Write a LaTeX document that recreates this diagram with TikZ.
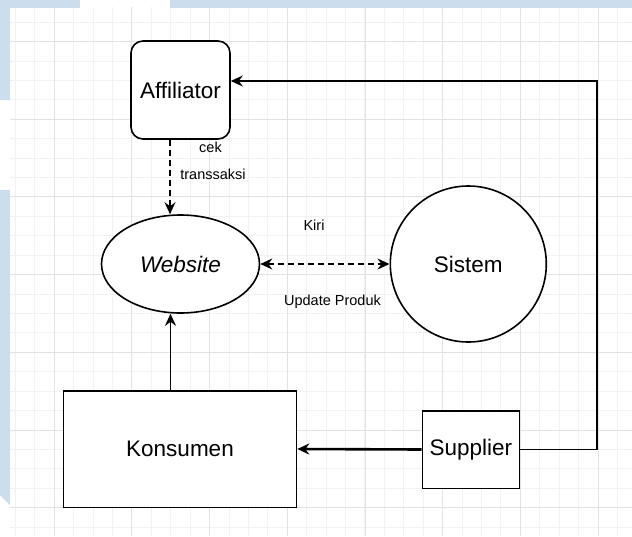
\documentclass[tikz,border=0pt]{standalone}
\usepackage{fontspec}
\setmainfont{Liberation Sans}
\usetikzlibrary{arrows.meta,positioning,shapes.geometric}
\definecolor{gridminor}{HTML}{F2F2F2}
\definecolor{gridmajor}{HTML}{E2E2E2}
\definecolor{pageblue}{HTML}{CCDDEE}

\begin{document}
\begin{tikzpicture}[x=1pt,y=-1pt,
  >={Stealth[length=12pt,width=11pt,inset=4pt]},
  entity/.style={draw=black,fill=white,line width=1.6pt,align=center,inner sep=0pt,font=\fontsize{22.5}{27}\selectfont},
  flow/.style={->,line width=1.6pt,draw=black},
  dashflow/.style={flow,dash pattern=on 6pt off 4pt},
  note/.style={inner sep=0pt,font=\fontsize{14.5}{17}\selectfont},
  minorgrid/.style={draw=gridminor,line width=1pt},
  majorgrid/.style={draw=gridmajor,line width=1pt}
]
\useasboundingbox (0,0) rectangle (632,536);
\fill[white] (0,0) rectangle (632,536);
% grid
\foreach \i in {0,...,31} \draw[minorgrid] ({15.4+19.42*\i},7) -- ({15.4+19.42*\i},536);
\foreach \j in {0,...,26} \draw[minorgrid] (10,{22.2+19.42*\j}) -- (632,{22.2+19.42*\j});
\foreach \i in {0,...,7} \draw[majorgrid] ({54.3+77.68*\i},7) -- ({54.3+77.68*\i},536);
\foreach \j in {0,...,6} \draw[majorgrid] (10,{41.6+77.68*\j}) -- (632,{41.6+77.68*\j});
% page edges
\fill[pageblue] (0,0) rectangle (80,7.5);
\fill[pageblue] (170,0) rectangle (632,7.5);
\fill[pageblue] (0,0) rectangle (10,100);
\fill[pageblue] (0,190) -- (10,190) -- (10,505) -- (0,495) -- cycle;

\node[entity,rounded corners=12pt,minimum width=99pt,minimum height=98pt] (aff) at (180.5,90) {Affiliator};
\node[entity,ellipse,minimum width=158pt,minimum height=98pt] (web) at (180.5,264) {\textit{Website}};
\node[entity,circle,minimum size=156pt] (sis) at (468.3,264) {Sistem};
\node[entity,minimum width=233pt,minimum height=116.6pt] (kon) at (180,449) {Konsumen};
\node[entity,minimum width=97pt,minimum height=77.6pt] (sup) at (470.8,449.5) {Supplier};

\draw[dashflow] ([xshift=-10.5pt]aff.south) -- ([xshift=-10.5pt]aff.south |- web.north);
\node[note] (cek) at (210.5,147) {cek};
\node[note] (trans) at (213,174) {transsaksi};
\draw[dashflow,<->] (web.east) -- (sis.west);
\node[note] (kiri) at (314,225) {Kiri};
\node[note] (upd) at (332.5,302) {Update Produk};
\draw[flow] ([xshift=-9.5pt]kon.north) -- ([xshift=-9.5pt]kon.north |- web.south);
\draw[flow,line width=2.6pt] (sup.west) -- (kon.east);
\coordinate (turn) at (596.7,81);
\draw[flow] (sup.east) -| (turn) -- (aff.east |- turn);
\end{tikzpicture}
\end{document}
